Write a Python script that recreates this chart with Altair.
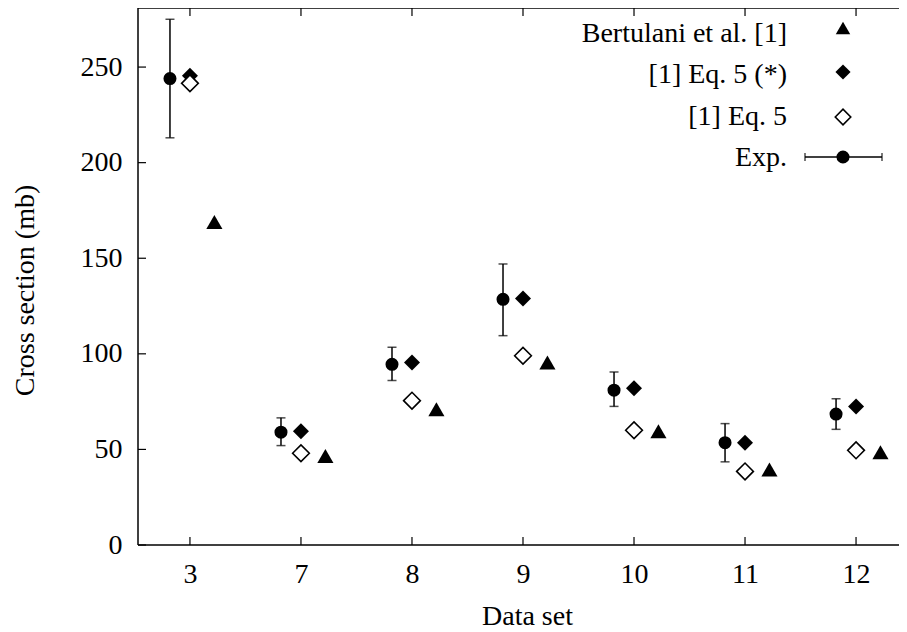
import altair as alt
import pandas as pd

datasets = ["3", "7", "8", "9", "10", "11", "12"]
exp_val = [244, 59, 94.5, 128.5, 81, 53.5, 68.5]
exp_lo = [213, 52, 86, 109.5, 72.5, 43.5, 60.5]
exp_hi = [275, 66.5, 103.5, 147, 90.5, 63.5, 76.5]
eq5_star = [245.5, 59.5, 95.5, 129, 82, 53.5, 72.5]
eq5 = [241.5, 48, 75.5, 99, 60, 38.5, 49.5]
bertulani = [169, 46.5, 71, 95.5, 59.5, 39.5, 48.5]
y_ticks = [0, 50, 100, 150, 200, 250]

legend_labels = ["Bertulani et al. [1]", "[1] Eq. 5 (*)", "[1] Eq. 5", "Exp."]

W, H = 761, 537
FONT = "Liberation Serif"
FS = 28

pos = list(range(1, len(datasets) + 1))
df = pd.DataFrame({
    "p": pos,
    "xe": [p - 0.18 for p in pos],
    "xt": [p + 0.22 for p in pos],
    "exp": exp_val, "lo": exp_lo, "hi": exp_hi,
    "eqs": eq5_star, "eq": eq5, "bert": bertulani,
})
ticks_x = pd.DataFrame({"p": pos})
ticks_y = pd.DataFrame({"v": y_ticks})
one = pd.DataFrame({"k": [0]})

xs = alt.Scale(domain=[0.532, 7.387], nice=False, zero=False)
ys = alt.Scale(domain=[0, 280.9], nice=False, zero=False)
label_js = str([""] + datasets)
xaxis = alt.Axis(values=pos, labelExpr=f"{label_js}[datum.value]", tickSize=0,
                 labelPadding=15, domain=False, grid=False,
                 titleX=389, titleY=79, titleBaseline="alphabetic")
yaxis = alt.Axis(values=y_ticks, tickSize=0, labelPadding=16, domain=False, grid=False,
                 titleX=-105, titleY=282, titleBaseline="alphabetic", titleAngle=-90)


def X(f):
    return alt.X(f, type="quantitative", scale=xs, axis=xaxis, title="Data set")


def Y(f):
    return alt.Y(f, type="quantitative", scale=ys, axis=yaxis, title="Cross section (mb)")


base = alt.Chart(df)
err = base.mark_rule(color="black", strokeWidth=1.5).encode(x=X("xe"), y=Y("lo"), y2="hi")
cap_lo = base.mark_tick(color="black", orient="horizontal", size=9, thickness=1.5).encode(x=X("xe"), y=Y("lo"))
cap_hi = base.mark_tick(color="black", orient="horizontal", size=9, thickness=1.5).encode(x=X("xe"), y=Y("hi"))
circ = base.mark_point(shape="circle", filled=True, color="black", size=170, opacity=1).encode(x=X("xe"), y=Y("exp"))
dstar = base.mark_point(shape="diamond", filled=True, color="black", size=256, opacity=1).encode(x=X("p"), y=Y("eqs"))
dopen = base.mark_point(shape="diamond", filled=True, fill="white", stroke="black", strokeWidth=1.6,
                        size=280, opacity=1).encode(x=X("p"), y=Y("eq"))
tri = base.mark_point(shape="triangle-up", filled=True, color="black", size=260, opacity=1).encode(x=X("xt"), y=Y("bert"))

# frame (left, top, bottom; the right edge lies outside the picture)
fl = alt.Chart(one).mark_rule(color="black", strokeWidth=1.5).encode(x=alt.value(0), y=alt.value(0), y2=alt.value(H))
ft = alt.Chart(one).mark_rule(color="black", strokeWidth=1.5).encode(y=alt.value(0), x=alt.value(0), x2=alt.value(W))
fb = alt.Chart(one).mark_rule(color="black", strokeWidth=1.5).encode(y=alt.value(H), x=alt.value(0), x2=alt.value(W))

tb = alt.Chart(ticks_x).mark_rule(color="black", strokeWidth=1.2).encode(x=X("p"), y=alt.value(H), y2=alt.value(H - 8))
tt = alt.Chart(ticks_x).mark_rule(color="black", strokeWidth=1.2).encode(x=X("p"), y=alt.value(0), y2=alt.value(8))
tl = alt.Chart(ticks_y).mark_rule(color="black", strokeWidth=1.2).encode(y=Y("v"), x=alt.value(0), x2=alt.value(8))

# legend
leg_sym_y = [20, 64, 109, 149]
leg_txt_y = [34, 75, 117, 158]
leg_df = pd.DataFrame({"label": legend_labels, "ly": leg_sym_y, "ty": leg_txt_y})
leg_text = alt.Chart(leg_df).mark_text(align="right", baseline="alphabetic", font=FONT, fontSize=FS,
                                       color="black").encode(
    text="label:N", x=alt.value(649), y=alt.Y("ty:Q", scale=None))
leg_tri = alt.Chart(leg_df.iloc[[0]]).mark_point(shape="triangle-up", filled=True, color="black", size=210, opacity=1).encode(
    x=alt.value(705), y=alt.Y("ly:Q", scale=None))
leg_ds = alt.Chart(leg_df.iloc[[1]]).mark_point(shape="diamond", filled=True, color="black", size=230, opacity=1).encode(
    x=alt.value(705), y=alt.Y("ly:Q", scale=None))
leg_do = alt.Chart(leg_df.iloc[[2]]).mark_point(shape="diamond", filled=True, fill="white", stroke="black", strokeWidth=1.6,
                                                size=240, opacity=1).encode(
    x=alt.value(705), y=alt.Y("ly:Q", scale=None))
leg_line = alt.Chart(leg_df.iloc[[3]]).mark_rule(color="black", strokeWidth=1.5).encode(
    x=alt.value(667), x2=alt.value(744), y=alt.Y("ly:Q", scale=None))
leg_capl = alt.Chart(leg_df.iloc[[3]]).mark_tick(color="black", orient="vertical", size=8, thickness=1.5).encode(
    x=alt.value(667), y=alt.Y("ly:Q", scale=None))
leg_capr = alt.Chart(leg_df.iloc[[3]]).mark_tick(color="black", orient="vertical", size=8, thickness=1.5).encode(
    x=alt.value(744), y=alt.Y("ly:Q", scale=None))
leg_circ = alt.Chart(leg_df.iloc[[3]]).mark_point(shape="circle", filled=True, color="black", size=170, opacity=1).encode(
    x=alt.value(705), y=alt.Y("ly:Q", scale=None))

chart = alt.layer(
    err, cap_lo, cap_hi, circ, dstar, dopen, tri, fl, ft, fb, tb, tt, tl,
    leg_text, leg_tri, leg_ds, leg_do, leg_line, leg_capl, leg_capr, leg_circ
).properties(
    width=W, height=H, autosize="none",
    padding={"left": 130, "top": 0, "right": 0, "bottom": 86},
).configure_view(
    stroke=None
).configure_axis(
    labelFont=FONT, labelFontSize=FS, labelColor="black",
    titleFont=FONT, titleFontSize=FS, titleColor="black", titleFontWeight="normal",
)

chart.save("out.html", embed_options={"renderer": "svg", "actions": False})
